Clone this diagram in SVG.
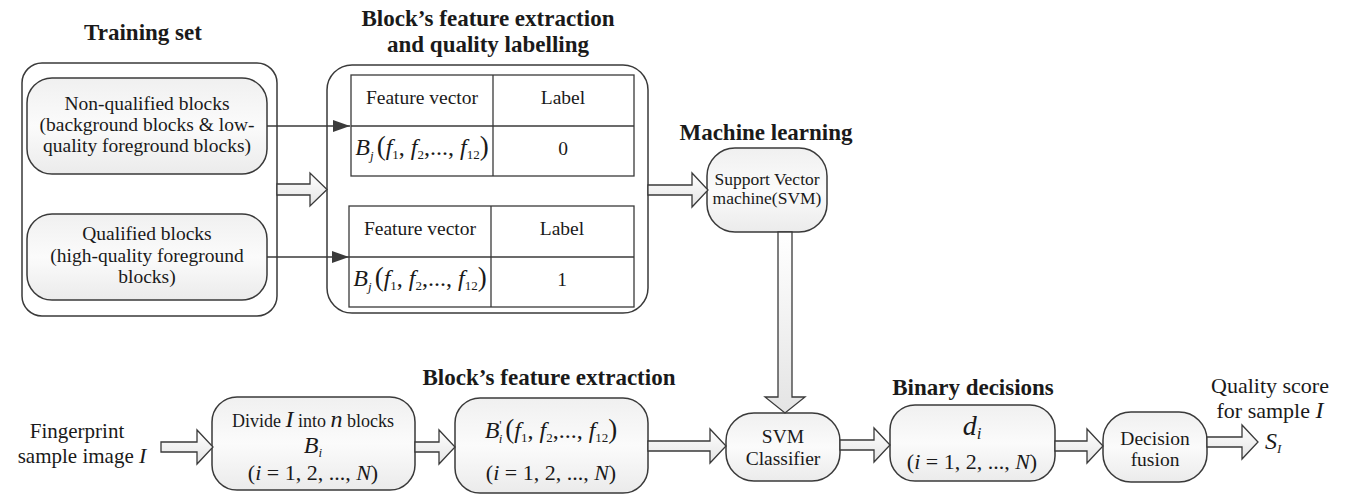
<svg xmlns="http://www.w3.org/2000/svg" width="1353" height="498" viewBox="0 0 1353 498">
<style>
text{font-family:"Liberation Serif","Times New Roman",serif;fill:#1a1a1a}
.title{font-size:23px;font-weight:bold;text-anchor:middle}
.t19{font-size:19.5px;text-anchor:middle}
.t17{font-size:17.5px;text-anchor:middle}
.t22{font-size:22px;text-anchor:middle}
.t21{font-size:21px;text-anchor:middle}
.it{font-style:italic}
.sub{font-size:13px}
.big{font-size:27px}
.box{fill:url(#g);stroke:#3a3a3a;stroke-width:1.5}
.outer{fill:#fff;stroke:#3a3a3a;stroke-width:1.5}
.tbl{fill:#fff;stroke:#3a3a3a;stroke-width:1.3}
.ln{stroke:#3a3a3a;stroke-width:1.3;fill:none}
.barrow{fill:url(#ga);stroke:#3a3a3a;stroke-width:1.3;stroke-linejoin:miter}
</style>
<defs>
<linearGradient id="g" x1="0" y1="0" x2="0" y2="1">
<stop offset="0" stop-color="#f0f0f0"/>
<stop offset="0.5" stop-color="#fbfbfb"/>
<stop offset="1" stop-color="#ebebeb"/>
</linearGradient>
<linearGradient id="ga" x1="0" y1="0" x2="0" y2="1">
<stop offset="0" stop-color="#ffffff"/>
<stop offset="1" stop-color="#e4e4e4"/>
</linearGradient>
<marker id="fa" markerWidth="18" markerHeight="12" refX="17" refY="6" orient="auto" markerUnits="userSpaceOnUse">
<path d="M0,0 L17,6 L0,12 Z" fill="#3a3a3a"/>
</marker>
</defs>

<!-- Titles -->
<g id="titles">
<text class="title" x="143" y="40">Training set</text>
<text class="title" x="488" y="26">Block’s feature extraction</text>
<text class="title" x="488" y="52">and quality labelling</text>
<text class="title" x="766" y="140">Machine learning</text>
<text class="title" x="549" y="385">Block’s feature extraction</text>
<text class="title" x="973" y="395">Binary decisions</text>
</g>

<!-- Training set -->
<g id="training-set">
<rect class="outer" x="22" y="63" width="255" height="253" rx="20"/>
</g>
<g id="non-qualified">
<rect class="box" x="27" y="78" width="240" height="96" rx="25"/>
<text class="t19" x="147" y="110">Non-qualified blocks</text>
<text class="t19" x="147" y="131">(background blocks &amp; low-</text>
<text class="t19" x="147" y="152">quality foreground blocks)</text>
</g>
<g id="qualified">
<rect class="box" x="27" y="214" width="240" height="86" rx="25"/>
<text class="t19" x="147" y="240">Qualified blocks</text>
<text class="t19" x="147" y="262">(high-quality foreground</text>
<text class="t19" x="147" y="283">blocks)</text>
</g>

<!-- Feature extraction and labelling -->
<g id="labelling">
<rect class="outer" x="327" y="65" width="321" height="248" rx="25"/>
</g>
<g id="table0">
<rect class="tbl" x="351" y="75" width="283" height="101"/>
<line class="ln" x1="351" y1="126" x2="634" y2="126"/>
<line class="ln" x1="493" y1="75" x2="493" y2="176"/>
<text class="t19" x="422" y="104">Feature vector</text>
<text class="t19" x="563" y="104">Label</text>
<text x="422" y="155" text-anchor="middle" font-size="24"><tspan class="it">B</tspan><tspan class="it sub" dy="5">j</tspan><tspan class="big" dy="-5" dx="3">(</tspan><tspan class="it">f</tspan><tspan class="sub" dy="4">1</tspan><tspan dy="-4">, </tspan><tspan class="it">f</tspan><tspan class="sub" dy="4">2</tspan><tspan dy="-4">,..., </tspan><tspan class="it">f</tspan><tspan class="sub" dy="4">12</tspan><tspan class="big" dy="-4">)</tspan></text>
<text class="t19" x="563" y="155">0</text>
</g>
<g id="table1">
<rect class="tbl" x="349" y="206" width="285" height="101"/>
<line class="ln" x1="349" y1="257" x2="634" y2="257"/>
<line class="ln" x1="491" y1="206" x2="491" y2="307"/>
<text class="t19" x="420" y="235">Feature vector</text>
<text class="t19" x="562" y="235">Label</text>
<text x="420" y="286" text-anchor="middle" font-size="24"><tspan class="it">B</tspan><tspan class="it sub" dy="5">j</tspan><tspan class="big" dy="-5" dx="3">(</tspan><tspan class="it">f</tspan><tspan class="sub" dy="4">1</tspan><tspan dy="-4">, </tspan><tspan class="it">f</tspan><tspan class="sub" dy="4">2</tspan><tspan dy="-4">,..., </tspan><tspan class="it">f</tspan><tspan class="sub" dy="4">12</tspan><tspan class="big" dy="-4">)</tspan></text>
<text class="t19" x="562" y="286">1</text>
</g>

<!-- SVM training -->
<g id="svm">
<rect class="box" x="707" y="148" width="120" height="84" rx="28"/>
<text class="t17" x="767" y="185">Support Vector</text>
<text class="t17" x="767" y="204">machine(SVM)</text>
</g>

<!-- Bottom pipeline -->
<g id="input">
<text class="t21" x="77" y="438">Fingerprint</text>
<text class="t21" x="82" y="463">sample image <tspan class="it" font-size="22">I</tspan></text>
</g>
<g id="divide">
<rect class="box" x="212" y="397" width="203" height="93" rx="25"/>
<text x="313" y="427" text-anchor="middle" font-size="18">Divide <tspan class="it" font-size="24">I</tspan> into <tspan class="it" font-size="24">n</tspan> blocks</text>
<text class="t22" x="313" y="453"><tspan class="it" font-size="24">B</tspan><tspan class="it sub" dy="4">i</tspan></text>
<text class="t22" x="313" y="480">(<tspan class="it">i</tspan> = 1, 2, ..., <tspan class="it">N</tspan>)</text>
</g>
<g id="features">
<rect class="box" x="455" y="398" width="193" height="95" rx="25"/>
<text x="551" y="438" text-anchor="middle" font-size="24"><tspan class="it">B</tspan><tspan class="sub" dy="-9">'</tspan><tspan class="it sub" dy="14" dx="-3">i</tspan><tspan class="big" dy="-5" dx="3">(</tspan><tspan class="it">f</tspan><tspan class="sub" dy="4">1</tspan><tspan dy="-4">, </tspan><tspan class="it">f</tspan><tspan class="sub" dy="4">2</tspan><tspan dy="-4">,..., </tspan><tspan class="it">f</tspan><tspan class="sub" dy="4">12</tspan><tspan class="big" dy="-4">)</tspan></text>
<text class="t22" x="551" y="480">(<tspan class="it">i</tspan> = 1, 2, ..., <tspan class="it">N</tspan>)</text>
</g>
<g id="classifier">
<rect class="box" x="726" y="413" width="114" height="68" rx="28"/>
<text class="t19" x="783" y="443">SVM</text>
<text class="t19" x="783" y="465">Classifier</text>
</g>
<g id="decisions">
<rect class="box" x="890" y="405" width="165" height="76" rx="25"/>
<text class="t22" x="972" y="435"><tspan class="it" font-size="28">d</tspan><tspan class="it" font-size="17" dy="4">i</tspan></text>
<text class="t22" x="972" y="469">(<tspan class="it">i</tspan> = 1, 2, ..., <tspan class="it">N</tspan>)</text>
</g>
<g id="fusion">
<rect class="box" x="1103" y="412" width="104" height="70" rx="28"/>
<text class="t19" x="1155" y="445">Decision</text>
<text class="t19" x="1155" y="466">fusion</text>
</g>
<g id="output">
<text class="t22" x="1270" y="393">Quality score</text>
<text class="t22" x="1270" y="418">for sample <tspan class="it" font-size="24">I</tspan></text>
<text x="1265" y="449" font-size="24" class="it">S<tspan class="sub" dy="4">I</tspan></text>
</g>

<!-- Connectors -->
<g id="connectors">
<line class="ln" x1="267" y1="126" x2="350" y2="126" marker-end="url(#fa)"/>
<line class="ln" x1="267" y1="257" x2="349" y2="257" marker-end="url(#fa)"/>
<polygon class="barrow" points="277,184 310,184 310,173 327,189.5 310,206 310,195 277,195"/>
<polygon class="barrow" points="648,185 692,185 692,173 708,190 692,207 692,195 648,195"/>
<polygon class="barrow" points="778,232 792,232 792,397 805,397 785,413 765,397 778,397"/>
<polygon class="barrow" points="161,442 197,442 197,430 213,447 197,464 197,452 161,452"/>
<polygon class="barrow" points="415,442 439,442 439,430 455,447 439,464 439,452 415,452"/>
<polygon class="barrow" points="648,441 710,441 710,429 726,446 710,463 710,451 648,451"/>
<polygon class="barrow" points="840,440 874,440 874,428 890,445 874,462 874,450 840,450"/>
<polygon class="barrow" points="1055,441 1087,441 1087,429 1103,446 1087,463 1087,451 1055,451"/>
<polygon class="barrow" points="1207,437 1242,437 1242,425 1258,442 1242,459 1242,447 1207,447"/>
</g>
</svg>
